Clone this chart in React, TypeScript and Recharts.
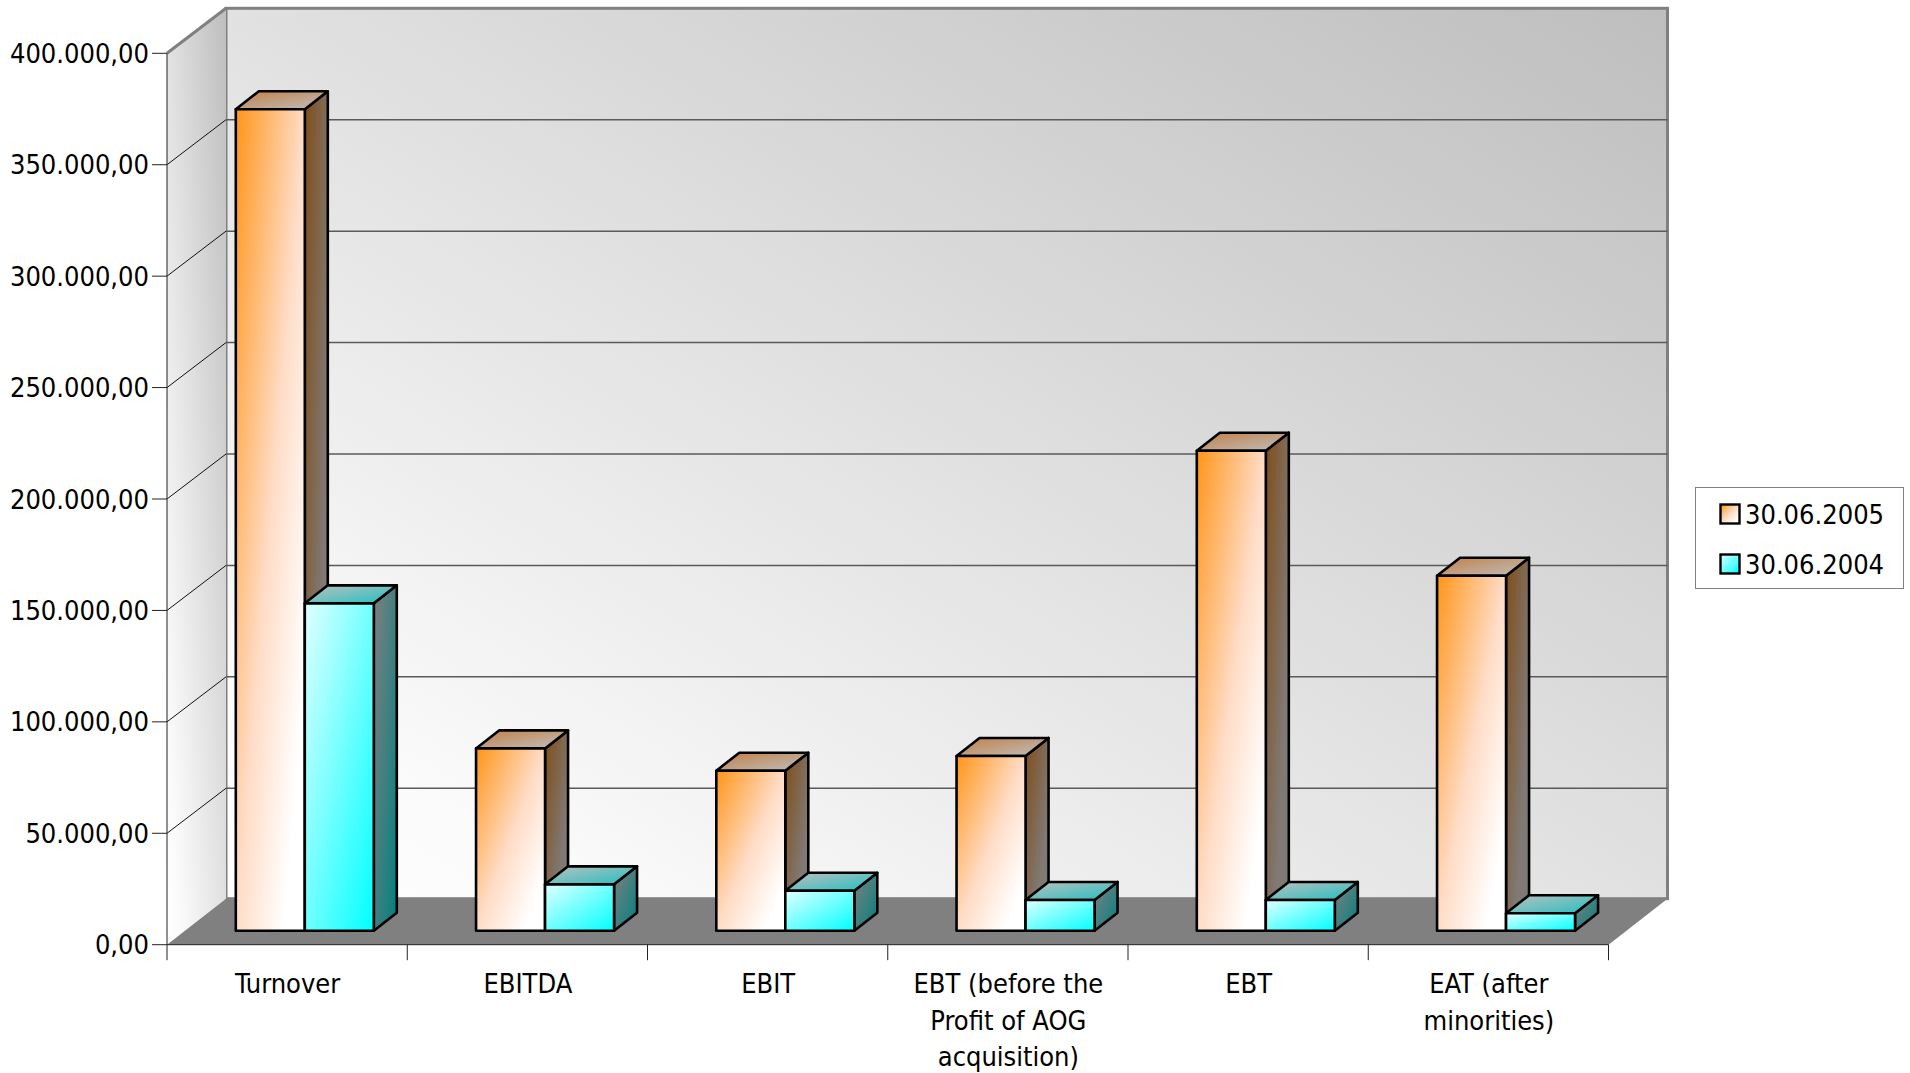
import { BarChart, Bar, XAxis, YAxis, CartesianGrid, Legend } from 'recharts';

const categories = ['Turnover', 'EBITDA', 'EBIT', 'EBT (before the Profit of AOG acquisition)', 'EBT', 'EAT (after minorities)'];
const categoryLines = [
  ['Turnover'],
  ['EBITDA'],
  ['EBIT'],
  ['EBT (before the', 'Profit of AOG', 'acquisition)'],
  ['EBT'],
  ['EAT (after', 'minorities)'],
];
const values2005 = [368600, 81800, 71800, 78400, 215400, 159300];
const values2004 = [146900, 20800, 17900, 13800, 13800, 7800];
const yTicks = [0, 50000, 100000, 150000, 200000, 250000, 300000, 350000, 400000];

const chartData = categories.map((name, i) => ({
  name,
  y2005: values2005[i],
  y2004: values2004[i],
}));

// plot rectangle = the front plane of the 3D box
const WIDTH = 1910;
const HEIGHT = 1073;
const LEFT = 167;
const RIGHT = 1608.5;
const TOP = 53.3;
const BOTTOM = 944.7;
const WALL_DX = 59;
const WALL_DY = 46;
const GRID_DY = 45;
const BAR_SHIFT_X = 17.8;
const BAR_SHIFT_Y = 14;
const BAR_DX = 23;
const BAR_DY = 18;
const FONT = '"DejaVu Sans Condensed", "DejaVu Sans", sans-serif';
const FONT_SIZE = 27;

const formatValue = (v: number) => {
  const s = String(Math.round(v)).replace(/\B(?=(\d{3})+(?!\d))/g, '.');
  return `${s},00`;
};

// back wall, left wall and floor, sit in their own svg under the chart
const Walls = () => {
  const backL = LEFT + WALL_DX;
  const backR = RIGHT + WALL_DX;
  const backT = TOP - WALL_DY + 1;
  const backB = BOTTOM - WALL_DY;
  return (
    <svg width={WIDTH} height={HEIGHT} style={{ position: 'absolute', left: 0, top: 0 }}>
      <defs>
        <linearGradient id="wallGrad" x1="0" y1="1" x2="1" y2="0">
          <stop offset="0" stopColor="#ffffff" />
          <stop offset="0.12" stopColor="#fbfbfb" />
          <stop offset="0.5" stopColor="#e1e1e1" />
          <stop offset="1" stopColor="#bebebe" />
        </linearGradient>
      </defs>
      <rect x={backL} y={backT} width={backR - backL} height={backB - backT} fill="url(#wallGrad)" stroke="#808080" strokeWidth={3} />
      <polygon
        points={`${LEFT},${TOP} ${backL},${backT} ${backL},${backB} ${LEFT},${BOTTOM}`}
        fill="url(#wallGrad)"
      />
      <line x1={LEFT} y1={TOP} x2={backL} y2={backT} stroke="#808080" strokeWidth={3} />
      <polygon
        points={`${LEFT},${BOTTOM} ${backL},${backB} ${backR},${backB} ${RIGHT},${BOTTOM}`}
        fill="#808080"
      />
    </svg>
  );
};

// grid line: runs across the back wall and down the side wall
const gridLine = (props: any) => {
  const { y1, index } = props;
  if (Math.abs(y1 - TOP) < 1 || Math.abs(y1 - BOTTOM) < 1) return <g key={`grid-${index}`} />;
  return (
    <g key={`grid-${index}`}>
      <line x1={LEFT} y1={y1} x2={LEFT + WALL_DX} y2={y1 - GRID_DY} stroke="#111" strokeWidth={1} />
      <line x1={LEFT + WALL_DX} y1={y1 - GRID_DY} x2={RIGHT + WALL_DX} y2={y1 - GRID_DY} stroke="#5a5a5a" strokeWidth={1.5} />
    </g>
  );
};

const makeBox = (front: string, top: string, side: string) => (props: any) => {
  const { x, y, width, height } = props;
  const fx = x + BAR_SHIFT_X;
  const fy = y - BAR_SHIFT_Y;
  return (
    <g stroke="#000" strokeWidth={2.6} strokeLinejoin="round">
      <polygon
        points={`${fx + width},${fy} ${fx + width + BAR_DX},${fy - BAR_DY} ${fx + width + BAR_DX},${fy + height - BAR_DY} ${fx + width},${fy + height}`}
        fill={side}
      />
      <polygon
        points={`${fx},${fy} ${fx + BAR_DX},${fy - BAR_DY} ${fx + width + BAR_DX},${fy - BAR_DY} ${fx + width},${fy}`}
        fill={top}
      />
      <rect x={fx} y={fy} width={width} height={height} fill={front} />
    </g>
  );
};

const OrangeBox = makeBox('url(#orangeFront)', 'url(#orangeTop)', 'url(#orangeSide)');
const CyanBox = makeBox('url(#cyanFront)', 'url(#cyanTop)', 'url(#cyanSide)');

// x axis ticks sit on the category boundaries, labels in the middle
const CategoryTick = (props: any) => {
  const { x, y, index } = props;
  const step = (RIGHT - LEFT) / categories.length;
  const lines = categoryLines[index] || [];
  return (
    <g>
      <line x1={x - step / 2} y1={BOTTOM} x2={x - step / 2} y2={BOTTOM + 15.5} stroke="#222" strokeWidth={1} />
      {index === categories.length - 1 && (
        <line x1={x + step / 2} y1={BOTTOM} x2={x + step / 2} y2={BOTTOM + 15.5} stroke="#222" strokeWidth={1} />
      )}
      <text x={x + 0.5} y={y + 48.6} textAnchor="middle" fontFamily={FONT} fontSize={FONT_SIZE} fill="#000">
        {lines.map((line: string, i: number) => (
          <tspan key={i} x={x + 0.5} dy={i === 0 ? 0 : 36.5}>
            {line}
          </tspan>
        ))}
      </text>
    </g>
  );
};

const LegendBox = ({ payload }: any) => (
  <div
    style={{
      width: 209,
      height: 102,
      boxSizing: 'border-box',
      border: '1.5px solid #808080',
      background: '#fff',
      fontFamily: FONT,
      fontSize: FONT_SIZE,
      color: '#000',
      position: 'relative',
    }}
  >
    {(payload || []).map((item: any, i: number) => (
      <div key={item.value} style={{ position: 'absolute', left: 23, top: 11 + i * 50, height: 30, display: 'flex', alignItems: 'center' }}>
        <svg width={22} height={22} style={{ display: 'block', marginRight: 4 }}>
          <rect x={1.5} y={1.5} width={19} height={19} fill={item.color} stroke="#000" strokeWidth={2.4} />
        </svg>
        <span>{item.value}</span>
      </div>
    ))}
  </div>
);

export default function App() {
  return (
    <div style={{ position: 'absolute', left: 0, top: 0, width: WIDTH, height: HEIGHT, background: '#fff' }}>
      <Walls />
      <div style={{ position: 'absolute', left: 0, top: 0 }}>
        <BarChart
          width={WIDTH}
          height={HEIGHT}
          data={chartData}
          margin={{ top: TOP, right: WIDTH - RIGHT, bottom: 0, left: 0 }}
          barSize={69}
          barGap={0}
        >
          <defs>
            <linearGradient id="orangeFront" x1="0" y1="0" x2="1" y2="1">
              <stop offset="0" stopColor="#ff9518" />
              <stop offset="0.5" stopColor="#ffdcc6" />
              <stop offset="0.85" stopColor="#ffffff" />
            </linearGradient>
            <linearGradient id="orangeTop" x1="0" y1="0" x2="1" y2="1">
              <stop offset="0" stopColor="#c27f45" />
              <stop offset="1" stopColor="#bfbfbf" />
            </linearGradient>
            <linearGradient id="orangeSide" x1="0" y1="0" x2="1" y2="1">
              <stop offset="0" stopColor="#804d18" />
              <stop offset="0.7" stopColor="#807a76" />
            </linearGradient>
            <linearGradient id="cyanFront" x1="0" y1="0" x2="1" y2="1">
              <stop offset="0" stopColor="#e0ffff" />
              <stop offset="1" stopColor="#00ffff" />
            </linearGradient>
            <linearGradient id="cyanTop" x1="0" y1="0" x2="1" y2="1">
              <stop offset="0" stopColor="#bfbfbf" />
              <stop offset="1" stopColor="#20c0c0" />
            </linearGradient>
            <linearGradient id="cyanSide" x1="0" y1="0" x2="1" y2="1">
              <stop offset="0" stopColor="#808080" />
              <stop offset="1" stopColor="#008080" />
            </linearGradient>
          </defs>
          <CartesianGrid vertical={false} horizontal={gridLine} />
          <XAxis
            dataKey="name"
            interval={0}
            tickLine={false}
            tickSize={0}
            tickMargin={0}
            height={HEIGHT - BOTTOM}
            axisLine={{ stroke: '#222', strokeWidth: 1 }}
            tick={<CategoryTick />}
          />
          <YAxis
            width={LEFT}
            domain={[0, 400000]}
            ticks={yTicks}
            tickFormatter={formatValue}
            tickSize={15}
            tickMargin={3}
            interval={0}
            axisLine={{ stroke: '#222', strokeWidth: 1 }}
            tickLine={{ stroke: '#222', strokeWidth: 1 }}
            tick={{ fontFamily: FONT, fontSize: FONT_SIZE, fill: '#000' }}
          />
          <Bar dataKey="y2005" name="30.06.2005" fill="url(#orangeFront)" shape={OrangeBox} isAnimationActive={false} />
          <Bar dataKey="y2004" name="30.06.2004" fill="url(#cyanFront)" shape={CyanBox} isAnimationActive={false} />
          <Legend
            layout="horizontal"
            align="center"
            verticalAlign="middle"
            itemSorter={() => 0}
            content={<LegendBox />}
            wrapperStyle={{ left: 1695, top: 487, width: 209, height: 102 }}
          />
        </BarChart>
      </div>
    </div>
  );
}
